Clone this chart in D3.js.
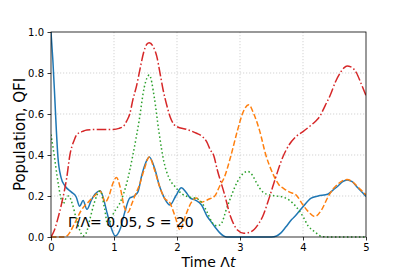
<!DOCTYPE html>
<html><head><meta charset="utf-8">
<script src="https://cdn.jsdelivr.net/npm/d3@7"></script>
<style>body{margin:0;background:#fff}svg{display:block}text{font-family:"DejaVu Sans",sans-serif}</style>
</head><body>
<svg id="c" width="407" height="271"></svg>
<script>
const xTicks = [0,1,2,3,4,5];
const yTicks = [0,0.2,0.4,0.6,0.8,1.0];

const blueT = [0,0.03,0.06,0.085,0.11,0.16,0.22,0.32,0.40,0.455,0.51,0.57,0.64,0.70,0.78,0.84,0.88,0.94,1.02,1.10,1.17,1.25,1.32,1.38,1.44,1.50,1.56,1.65,1.72,1.80,1.89,1.98,2.07,2.14,2.21,2.29,2.39,2.48,2.52,2.60,2.68,2.79,3.50,3.58,3.65,3.73,3.82,3.89,4.0,4.13,4.24,4.40,4.48,4.56,4.63,4.70,4.78,4.87,4.95,5.0];
const blueV = [1.0,0.86,0.68,0.52,0.39,0.29,0.25,0.22,0.195,0.15,0.178,0.135,0.18,0.21,0.226,0.18,0.13,0.06,0.005,0.04,0.12,0.19,0.20,0.22,0.30,0.36,0.39,0.33,0.25,0.19,0.156,0.20,0.24,0.22,0.19,0.18,0.156,0.10,0.083,0.05,0.02,0,0,0.005,0.02,0.05,0.085,0.107,0.148,0.19,0.20,0.21,0.23,0.25,0.27,0.278,0.27,0.24,0.215,0.197];

const orangeT = [0,0.2,0.27,0.375,0.48,0.59,0.69,0.78,0.86,0.92,0.98,1.04,1.10,1.16,1.22,1.28,1.33,1.40,1.48,1.56,1.64,1.72,1.80,1.89,1.97,2.05,2.13,2.23,2.31,2.39,2.50,2.60,2.68,2.75,2.85,2.96,3.05,3.14,3.22,3.31,3.41,3.52,3.62,3.70,3.78,3.89,4.0,4.08,4.19,4.29,4.40,4.48,4.56,4.63,4.70,4.78,4.87,4.95,5.0];
const orangeV = [0,0,0.01,0.067,0.13,0.17,0.20,0.225,0.17,0.20,0.26,0.29,0.24,0.15,0.12,0.16,0.20,0.25,0.33,0.39,0.33,0.25,0.19,0.165,0.10,0.034,0.10,0.17,0.19,0.17,0.184,0.20,0.25,0.29,0.39,0.52,0.61,0.645,0.60,0.52,0.40,0.31,0.254,0.235,0.22,0.205,0.156,0.125,0.10,0.13,0.197,0.235,0.26,0.275,0.28,0.27,0.245,0.22,0.205];

const greenT = [0,0.05,0.10,0.15,0.19,0.24,0.28,0.34,0.40,0.46,0.51,0.56,0.62,0.69,0.78,0.85,0.90,1.0,1.1,1.2,1.3,1.4,1.48,1.56,1.64,1.71,1.79,1.87,1.97,2.08,2.19,2.29,2.40,2.48,2.56,2.63,2.69,2.80,2.96,3.05,3.12,3.20,3.27,3.36,3.47,3.57,3.68,3.78,3.89,4.0,4.08,4.19,4.29,4.40,5.0];
const greenV = [0.50,0.40,0.29,0.20,0.16,0.19,0.20,0.16,0.09,0.03,0.005,0.02,0.09,0.17,0.225,0.14,0.06,0.12,0.17,0.26,0.40,0.57,0.73,0.79,0.68,0.52,0.37,0.29,0.245,0.21,0.195,0.19,0.165,0.12,0.07,0.055,0.06,0.15,0.27,0.31,0.32,0.30,0.26,0.22,0.205,0.20,0.195,0.18,0.148,0.10,0.055,0.025,0.003,0,0];

const redT = [0,0.05,0.10,0.17,0.25,0.30,0.365,0.41,0.50,0.57,0.80,0.99,1.08,1.15,1.20,1.25,1.30,1.36,1.42,1.47,1.52,1.56,1.62,1.68,1.73,1.78,1.84,1.89,1.95,2.0,2.15,2.31,2.40,2.47,2.53,2.58,2.64,2.75,2.85,2.96,3.06,3.17,3.30,3.36,3.47,3.57,3.68,3.78,3.89,4.0,4.13,4.20,4.27,4.35,4.43,4.52,4.59,4.65,4.70,4.76,4.85,4.92,5.0];
const redV = [0,0.03,0.08,0.165,0.29,0.40,0.47,0.50,0.515,0.522,0.525,0.525,0.53,0.54,0.565,0.60,0.67,0.74,0.83,0.90,0.94,0.948,0.93,0.88,0.80,0.717,0.64,0.587,0.55,0.538,0.525,0.506,0.49,0.465,0.424,0.40,0.327,0.213,0.10,0.034,0.018,0.025,0.067,0.10,0.197,0.294,0.39,0.45,0.49,0.514,0.546,0.565,0.59,0.64,0.69,0.76,0.80,0.825,0.834,0.83,0.80,0.75,0.69];

const series = [
  {t: blueT, v: blueV, color: "#1f77b4", dash: null},
  {t: orangeT, v: orangeV, color: "#ff7f0e", dash: "5.5,2.4"},
  {t: greenT, v: greenV, color: "#2ca02c", dash: "1.5,2.5"},
  {t: redT, v: redV, color: "#d62728", dash: "9.6,2.4,1.5,2.4"}
];

const L = 51, R = 366, T = 32, B = 237;
const svg = d3.select("#c");
const x = d3.scaleLinear().domain([0,5]).range([L,R]);
const y = d3.scaleLinear().domain([0,1]).range([B,T]);

// grid
const g = svg.append("g");
g.selectAll(".gx").data(xTicks.slice(1,-1)).enter().append("line")
  .attr("x1", d=>x(d)).attr("x2", d=>x(d)).attr("y1", T).attr("y2", B)
  .attr("stroke", "#c8c8c8").attr("stroke-width", 0.8).attr("stroke-dasharray", "1.2,1.8");
g.selectAll(".gy").data(yTicks.slice(1,-1)).enter().append("line")
  .attr("y1", d=>y(d)).attr("y2", d=>y(d)).attr("x1", L).attr("x2", R)
  .attr("stroke", "#c8c8c8").attr("stroke-width", 0.8).attr("stroke-dasharray", "1.2,1.8");

// lines
svg.append("clipPath").attr("id","cp").append("rect")
  .attr("x", L).attr("y", T-2).attr("width", R-L).attr("height", B-T+4);
const lineGen = d3.line().x(d=>x(d[0])).y(d=>y(d[1])).curve(d3.curveMonotoneX);
series.forEach(s => {
  const pts = s.t.map((t,i)=>[t, s.v[i]]);
  svg.append("path").attr("d", lineGen(pts)).attr("fill","none")
    .attr("stroke", s.color).attr("stroke-width", 1.5)
    .attr("stroke-dasharray", s.dash).attr("clip-path","url(#cp)");
});

// axes
const xa = svg.append("g").attr("transform", `translate(0,${B})`)
  .call(d3.axisBottom(x).tickValues(xTicks).tickFormat(d3.format("d")).tickSize(3.5).tickPadding(3.5));
const ya = svg.append("g").attr("transform", `translate(${L},0)`)
  .call(d3.axisLeft(y).tickValues(yTicks).tickFormat(d3.format(".1f")).tickSize(3.5).tickPadding(3.5));
[xa, ya].forEach(a => {
  a.select(".domain").remove();
  a.selectAll("text").attr("font-family","DejaVu Sans").attr("font-size", 10).attr("fill","#000");
  a.selectAll("line").attr("stroke","#000").attr("stroke-width",0.8);
});
svg.append("rect").attr("x", L).attr("y", T).attr("width", R-L).attr("height", B-T)
  .attr("fill","none").attr("stroke","#000").attr("stroke-width",0.8);

// labels
svg.append("text").attr("x", (L+R)/2).attr("y", 267).attr("text-anchor","middle")
  .attr("font-size", 14).html('Time Λ<tspan font-style="italic">t</tspan>');
svg.append("text").attr("transform", `translate(25,${(T+B)/2}) rotate(-90)`).attr("text-anchor","middle")
  .attr("font-size", 15).text("Population, QFI");
svg.append("text").attr("x", 68).attr("y", 227).attr("font-size", 14)
  .html('Γ/Λ= 0.05, <tspan font-style="italic">S</tspan> = 20');
</script>
</body></html>
